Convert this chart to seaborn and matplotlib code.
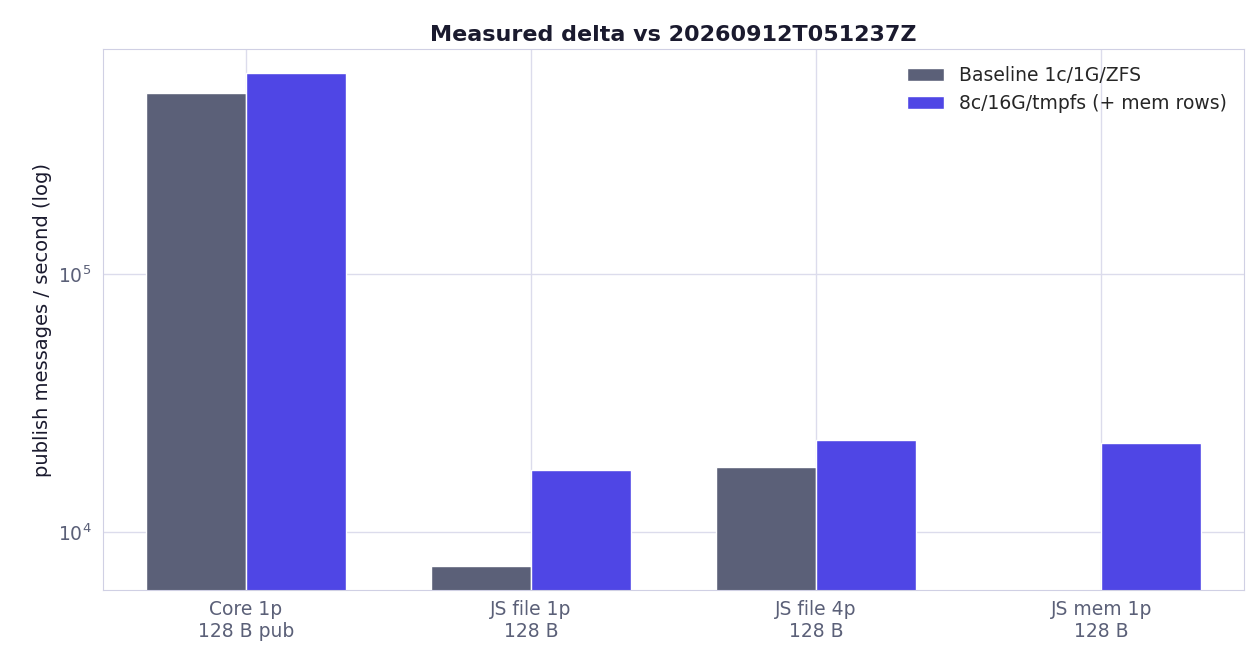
import numpy as np
import pandas as pd
import matplotlib
matplotlib.use("Agg")
import matplotlib.pyplot as plt
import seaborn as sns

categories = ["Core 1p\n128 B pub", "JS file 1p\n128 B", "JS file 4p\n128 B", "JS mem 1p\n128 B"]
baseline = [503000, 7380, 17900, np.nan]
tuned = [601000, 17400, 22800, 22100]
series = ["Baseline 1c/1G/ZFS", "8c/16G/tmpfs (+ mem rows)"]

df = pd.DataFrame({
    "cat": categories * 2,
    "value": baseline + tuned,
    "series": [series[0]] * 4 + [series[1]] * 4,
})

sns.set_style("white")
plt.rcParams["font.family"] = ["DejaVu Sans"]
fig, ax = plt.subplots(figsize=(12.59, 6.72), dpi=100)
sns.barplot(data=df, x="cat", y="value", hue="series", hue_order=series,
            palette=["#5b6078", "#4f46e5"], width=0.7, ax=ax, saturation=1)
ax.set_yscale("log")
ax.set_ylim(5960, 745000)
ax.grid(True, which="major", color="#dcdcec", linewidth=1)
ax.set_axisbelow(True)
for s in ax.spines.values():
    s.set_color("#d0d0e4")
ax.tick_params(axis="both", which="both", colors="#c0c0d0", labelcolor="#5b6078", labelsize=13.5)
ax.tick_params(axis="y", which="major", length=5)
ax.tick_params(axis="y", which="minor", length=3)
ax.set_xlabel("")
ax.set_ylabel("publish messages / second (log)", fontsize=14, color="#1a1a2e")
ax.set_title("Measured delta vs 20260912T051237Z", fontsize=16, fontweight="bold", color="#1a1a2e")
ax.legend(frameon=False, fontsize=13.5, loc="upper right")
fig.subplots_adjust(left=0.082, right=0.988, top=0.927, bottom=0.122)
fig.savefig("out.png", dpi=100)
